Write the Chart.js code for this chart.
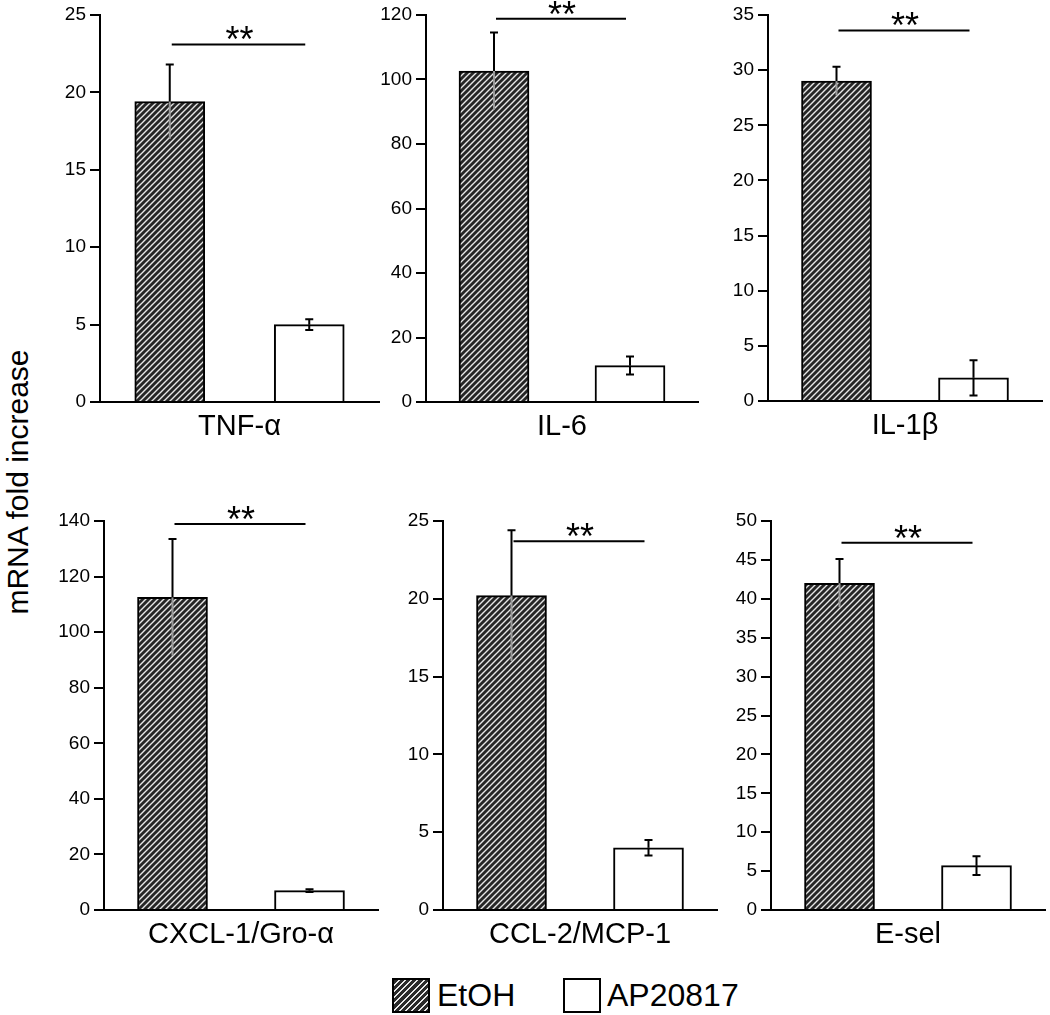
<!DOCTYPE html>
<html>
<head>
<meta charset="utf-8">
<script src="https://cdn.jsdelivr.net/npm/chart.js@4.4.1/dist/chart.umd.min.js"></script>
<style>
  html, body { margin: 0; padding: 0; background: #fff; }
  body { width: 1050px; height: 1015px; position: relative; overflow: hidden; font-family: "Liberation Sans", Arial, sans-serif; }
  canvas { position: absolute; }
  #ytitle { position: absolute; left: 18px; top: 482px; font-size: 30px; white-space: nowrap;
            transform: translate(-50%, -50%) rotate(-90deg); }
  .legend { position: absolute; top: 978px; font-size: 32px; line-height: 35px; }
  .box { position: absolute; top: 978px; width: 34px; height: 31px; border: 2px solid #000; }
  #hatch { background: repeating-linear-gradient(135deg, #2a2a2a 0px, #2a2a2a 3px, #e8e8e8 3px, #e8e8e8 4.4px); }
</style>
</head>
<body>
<div id="ytitle">mRNA fold increase</div>
<div class="box" id="hatch" style="left:392px"></div>
<div class="legend" style="left:437px">EtOH</div>
<div class="box" style="left:563px; background:#fff"></div>
<div class="legend" style="left:607px">AP20817</div>

<script>
// values
const genes = ['TNF-α', 'IL-6', 'IL-1β', 'CXCL-1/Gro-α', 'CCL-2/MCP-1', 'E-sel'];
const groups = ['EtOH', 'AP20817'];
const etohMean = [19.4, 102.6, 29.0, 112.5, 20.2, 42.0];
const etohErr = [2.4, 12.0, 1.3, 21.0, 4.2, 3.1];
const apMean = [5.0, 11.3, 2.1, 7.0, 4.0, 5.7];
const apErr = [0.35, 2.8, 1.6, 0.5, 0.5, 1.2];
const yMax = [25, 120, 35, 140, 25, 50];
const yStep = [5, 20, 5, 20, 5, 5];
const sigLevel = [23.1, 118.8, 33.6, 138.9, 23.7, 47.2];
const sigText = ['**', '**', '**', '**', '**', '**'];

// where each panel sits on the page: axis left, axis right, top, baseline
const panels = [
    [100, 379, 15, 402],
    [426, 698, 15, 402],
    [768, 1042, 15, 401],
    [104, 378, 521, 910],
    [443, 717, 521, 910],
    [771, 1045, 521, 910]
];

Chart.defaults.font.family = '"Liberation Sans", Arial, sans-serif';
Chart.defaults.color = '#000';

const yAxisW = 70;
const xAxisH = 60;
const padTop = 20;
const padRight = 6;

function makeHatch(ctx) {
    const c = document.createElement('canvas');
    c.width = 6;
    c.height = 6;
    const g = c.getContext('2d');
    g.fillStyle = '#262626';
    g.fillRect(0, 0, 6, 6);
    g.strokeStyle = '#e6e6e6';
    g.lineWidth = 1.4;
    g.beginPath();
    g.moveTo(0, 6); g.lineTo(6, 0);
    g.moveTo(-1, 1); g.lineTo(1, -1);
    g.moveTo(5, 7); g.lineTo(7, 5);
    g.stroke();
    return ctx.createPattern(c, 'repeat');
}

const extras = {
    id: 'extras',
    afterDatasetsDraw(chart) {
        const i = chart.config.options.panelIndex;
        const ctx = chart.ctx;
        const y = chart.scales.y;
        const area = chart.chartArea;
        const bars = chart.getDatasetMeta(0).data;
        const means = [etohMean[i], apMean[i]];
        const errs = [etohErr[i], apErr[i]];

        ctx.save();
        ctx.lineWidth = 2;
        bars.forEach((bar, k) => {
            const yTop = y.getPixelForValue(means[k] + errs[k]);
            const yMid = y.getPixelForValue(means[k]);
            const yLow = y.getPixelForValue(means[k] - errs[k]);
            ctx.strokeStyle = '#000';
            ctx.beginPath();
            ctx.moveTo(bar.x, yMid);
            ctx.lineTo(bar.x, yTop);
            ctx.moveTo(bar.x - 4, yTop);
            ctx.lineTo(bar.x + 4, yTop);
            ctx.stroke();
            // lower half: pale inside the dark bar, black with cap on the white bar
            ctx.beginPath();
            ctx.moveTo(bar.x, yMid);
            ctx.lineTo(bar.x, yLow);
            if (k === 0) {
                ctx.strokeStyle = '#9a9a9a';
            } else {
                ctx.moveTo(bar.x - 4, yLow);
                ctx.lineTo(bar.x + 4, yLow);
            }
            ctx.stroke();
        });

        // significance line and stars
        const ys = y.getPixelForValue(sigLevel[i]);
        ctx.strokeStyle = '#000';
        ctx.beginPath();
        ctx.moveTo(bars[0].x + 2, ys);
        ctx.lineTo(bars[1].x - 4, ys);
        ctx.stroke();
        ctx.fillStyle = '#000';
        ctx.font = '36px "Liberation Sans", Arial, sans-serif';
        ctx.textAlign = 'center';
        ctx.textBaseline = 'alphabetic';
        ctx.fillText(sigText[i], (bars[0].x + bars[1].x) / 2, ys + 8);

        // gene name under the axis
        ctx.font = '29px "Liberation Sans", Arial, sans-serif';
        ctx.textBaseline = 'middle';
        ctx.fillText(genes[i], (area.left + area.right) / 2, area.bottom + 25);
        ctx.restore();
    }
};

function drawPanel(i) {
    const [ax, ar, top, base] = panels[i];
    const canvas = document.createElement('canvas');
    const w = ar - ax + yAxisW + padRight;
    const h = base - top + padTop + xAxisH;
    canvas.width = w;
    canvas.height = h;
    canvas.style.left = (ax - yAxisW) + 'px';
    canvas.style.top = (top - padTop) + 'px';
    document.body.appendChild(canvas);
    const ctx = canvas.getContext('2d');

    new Chart(ctx, {
        type: 'bar',
        data: {
            labels: groups,
            datasets: [{
                data: [etohMean[i], apMean[i]],
                backgroundColor: [makeHatch(ctx), '#ffffff'],
                borderColor: '#000',
                borderWidth: 2,
                borderSkipped: 'bottom',
                barThickness: 70
            }]
        },
        options: {
            panelIndex: i,
            responsive: false,
            animation: false,
            devicePixelRatio: 1,
            layout: { padding: { top: padTop, right: padRight, left: 0, bottom: 0 } },
            plugins: { legend: { display: false }, tooltip: { enabled: false } },
            scales: {
                x: {
                    offset: true,
                    ticks: { display: false },
                    grid: { display: false },
                    border: { display: true, color: '#000', width: 2 },
                    afterFit(scale) { scale.height = xAxisH; }
                },
                y: {
                    min: 0,
                    max: yMax[i],
                    ticks: { stepSize: yStep[i], font: { size: 19 }, color: '#000', padding: 4 },
                    grid: { drawOnChartArea: false, drawTicks: true, tickLength: 10, color: '#000', lineWidth: 2 },
                    border: { display: true, color: '#000', width: 2 },
                    afterFit(scale) { scale.width = yAxisW; }
                }
            }
        },
        plugins: [extras]
    });
}

for (let i = 0; i < genes.length; i++) {
    drawPanel(i);
}
</script>
</body>
</html>
